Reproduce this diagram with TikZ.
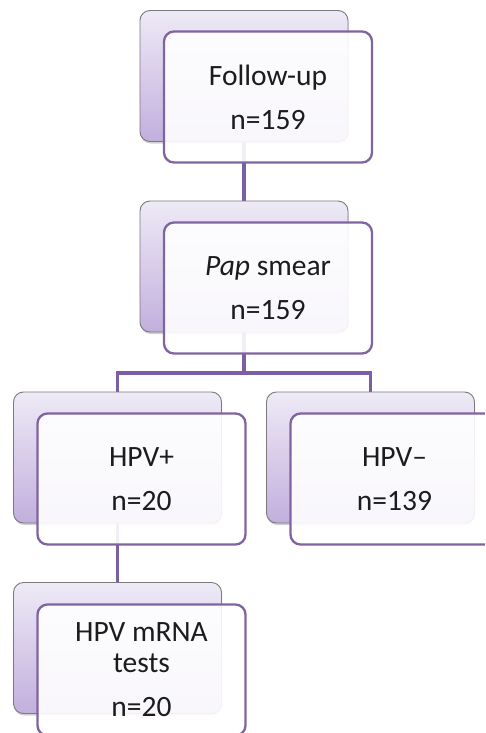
\documentclass[tikz,border=0pt]{standalone}
\usepackage{fontspec}
\setmainfont{Carlito}
\usetikzlibrary{shadows}
\pgfdeclarelayer{background}
\pgfsetlayers{background,main}
\definecolor{conncol}{HTML}{7A5FA5}
\definecolor{framecol}{HTML}{8064A2}
\definecolor{backtop}{HTML}{EEEAF6}
\definecolor{backbot}{HTML}{C2AFDD}
\definecolor{backedge}{HTML}{7A7A7A}
\definecolor{txtcol}{HTML}{1C1C1C}
\tikzset{
  backbox/.style={rectangle, rounded corners=10pt, minimum width=208pt, minimum height=131pt,
    draw=backedge, line width=0.9pt, top color=backtop, bottom color=backbot,
    drop shadow={opacity=0.35, shadow xshift=0.5pt, shadow yshift=-2pt}},
  frontbox/.style={rectangle, rounded corners=10pt, minimum width=208pt, minimum height=131pt,
    draw=framecol, line width=2.3pt, fill=white, fill opacity=0.9, text opacity=1,
    text=txtcol, align=center, font=\fontsize{29.5}{31}\selectfont},
  conn/.style={draw=conncol, line width=3.6pt}
}
\begin{document}
\begin{tikzpicture}[x=1pt,y=-1pt]
\clip (0,0) rectangle (485,733);
% back boxes
\node[backbox] (back1) at (244,76) {};
\node[backbox] (back2) at (244,266.5) {};
\node[backbox] (back3) at (117.5,457.5) {};
\node[backbox] (back4) at (370.5,457.5) {};
\node[backbox] (back5) at (117.5,648) {};
\coordinate (split) at (244,373);
% connectors (behind)
\begin{pgfonlayer}{background}
\fill[white] (0,0) rectangle (485,733);
\draw[conn] (back1.center) -- (back2.north);
\draw[conn] (back2.center) -- (split);
\draw[conn] (back3.north) |- (split) -| (back4.north);
\draw[conn] (back3.center) -- (back5.north);
\end{pgfonlayer}
% front boxes
\node[frontbox] (front1) at (268,97) {Follow-up\\[13pt]n=159};
\node[frontbox] (front2) at (268,288) {\textit{Pap} smear\\[13pt]n=159};
\node[frontbox] (front3) at (141.5,479) {HPV+\\[13pt]n=20};
\node[frontbox] (front4) at (394.5,479) {HPV–\\[13pt]n=139};
\node[frontbox] (front5) at (141.5,670) {HPV mRNA\\tests\\[13pt]n=20};
\end{tikzpicture}
\end{document}
